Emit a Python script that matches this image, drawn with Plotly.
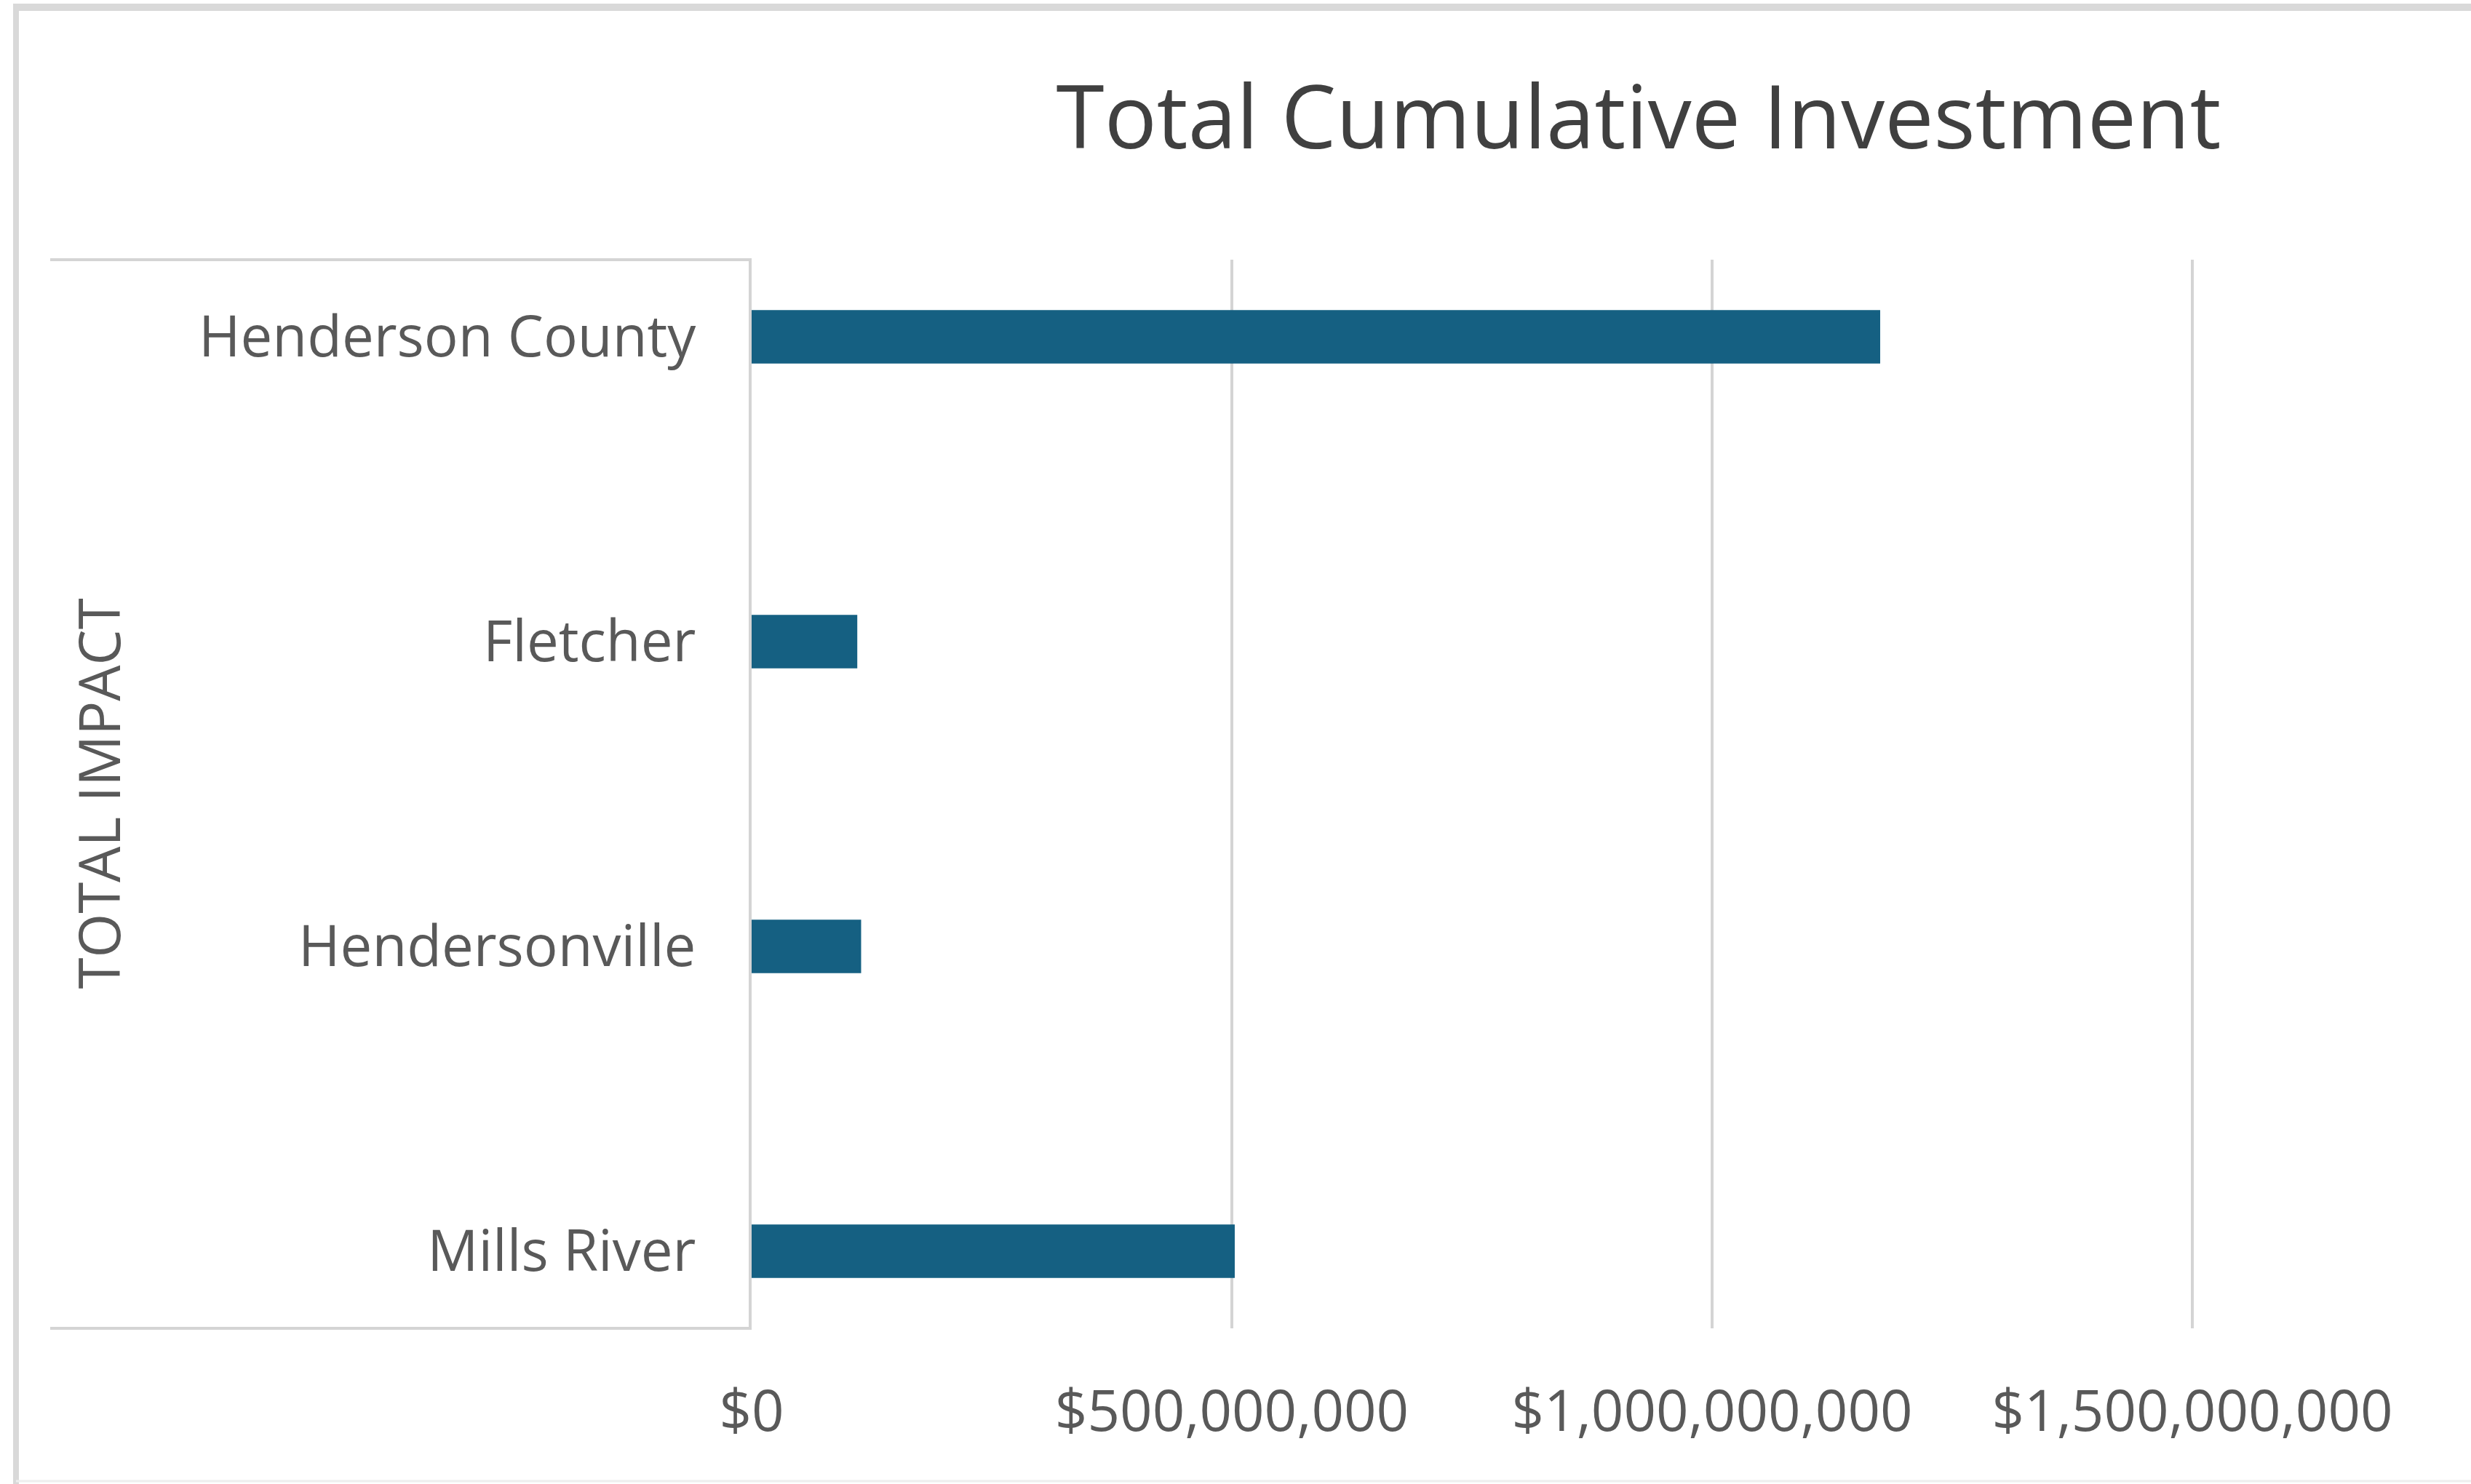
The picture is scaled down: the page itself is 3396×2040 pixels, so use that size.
import plotly.graph_objects as go

# ---- data ----
categories = ["Henderson County", "Fletcher", "Hendersonville", "Mills River"]
investment = [1175000000, 110000000, 114000000, 503000000]
x_tickvals = [0, 500000000, 1000000000, 1500000000]
x_ticktext = ["$0", "$500,000,000", "$1,000,000,000", "$1,500,000,000"]

W, H = 3396, 2040
L, R, T, B = 1033, 381, 357, 214
pw, ph = W - L - R, H - T - B

def px(x):
    return (x - L) / pw

def py(y):
    return (H - B - y) / ph

FONT = "Open Sans"
GRID = "#d4d4d4"

fig = go.Figure(go.Bar(
    y=categories, x=investment, orientation="h",
    marker=dict(color="#156082", line=dict(width=0)),
    width=0.175,
))

shapes = [
    # box around category label area
    dict(type="line", xref="paper", yref="paper", x0=px(69), x1=0, y0=1, y1=1,
         line=dict(color=GRID, width=4)),
    dict(type="line", xref="paper", yref="paper", x0=px(69), x1=0, y0=0, y1=0,
         line=dict(color=GRID, width=4)),
    # outer frame
    dict(type="line", xref="paper", yref="paper", x0=px(18), x1=px(3396), y0=py(10), y1=py(10),
         line=dict(color="#d9d9d9", width=10)),
    dict(type="line", xref="paper", yref="paper", x0=px(22), x1=px(22), y0=py(5), y1=py(2040),
         line=dict(color="#d9d9d9", width=8)),
    dict(type="line", xref="paper", yref="paper", x0=px(22), x1=px(3396), y0=py(2036), y1=py(2036),
         line=dict(color="#eeeeee", width=3)),
]

fig.update_layout(
    width=W, height=H,
    margin=dict(l=L, r=R, t=T, b=B, pad=0),
    paper_bgcolor="white", plot_bgcolor="white",
    showlegend=False,
    font=dict(family=FONT, color="#595959"),
    title=dict(text="Total Cumulative Investment", x=2252 / W, xref="container", xanchor="center",
               y=1 - 162 / H, yref="container", yanchor="middle",
               font=dict(family=FONT, size=120, color="#404040")),
    shapes=shapes,
    annotations=[dict(text="TOTAL IMPACT", xref="paper", yref="paper", x=px(134), y=0.5,
                      textangle=-90, showarrow=False, xanchor="center", yanchor="middle",
                      font=dict(family=FONT, size=78, color="#595959"))],
)

fig.update_xaxes(
    range=[0, 1501500000], tickvals=x_tickvals, ticktext=x_ticktext,
    showgrid=True, gridcolor=GRID, gridwidth=4, zeroline=False, showline=False,
    tickfont=dict(family=FONT, size=78, color="#595959"),
    ticks="", ticklabelstandoff=62,
)
fig.update_yaxes(
    type="category", categoryorder="array", categoryarray=categories,
    range=[3.253, -0.253], showgrid=False, zeroline=False,
    showline=True, linecolor=GRID, linewidth=4,
    tickfont=dict(family=FONT, size=78, color="#595959"),
    ticks="", ticklabelstandoff=57,
)

fig.write_html("out.html")
